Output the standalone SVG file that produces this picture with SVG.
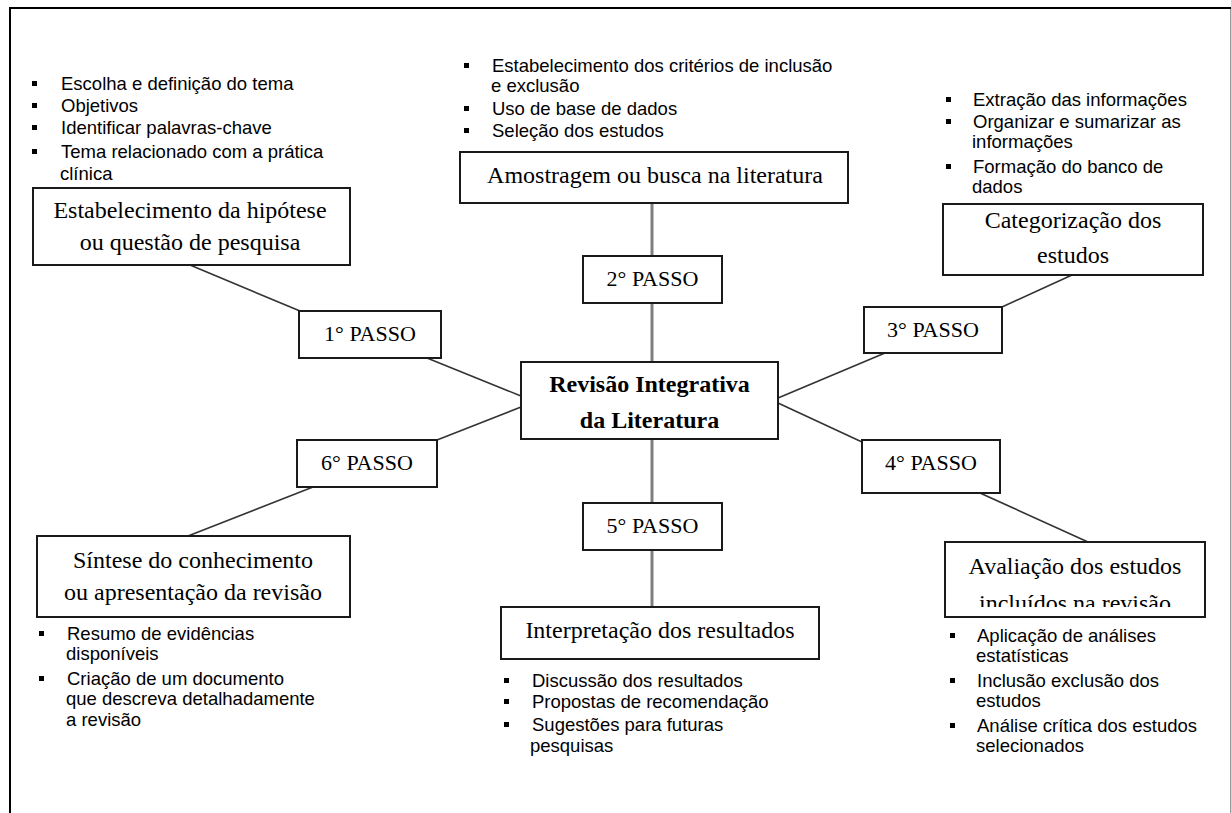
<svg xmlns="http://www.w3.org/2000/svg" width="1231" height="813" viewBox="0 0 1231 813">
<style>
.box{fill:#fff;stroke:#1a1a1a;stroke-width:2}
.lbl{font-family:"Liberation Serif","Times New Roman",serif;font-size:24px;text-anchor:middle;fill:#000}
.step{font-size:22px}
.title{font-weight:bold}
.bul{font-family:"Liberation Sans",Arial,sans-serif;font-size:18.5px;fill:#000}
.conn{stroke:#333;stroke-width:1.6;fill:none}
.vconn{stroke:#7f7f7f;stroke-width:3;fill:none}
</style>
<defs>
<rect id="b" width="5" height="5" fill="#000"/>
<clipPath id="clipAval"><rect x="940" y="540" width="270" height="67"/></clipPath>
</defs>
<rect width="1231" height="813" fill="#fff"/>
<g id="frame">
<line x1="9" y1="8" x2="1231" y2="8" stroke="#000" stroke-width="2"/>
<line x1="10" y1="7" x2="10" y2="813" stroke="#000" stroke-width="2"/>
<line x1="1230.5" y1="9" x2="1230.5" y2="813" stroke="#999" stroke-width="1"/>
</g>
<g id="connectors">
<line class="conn" x1="190" y1="265" x2="300" y2="311"/>
<line class="conn" x1="427" y1="358" x2="521" y2="396"/>
<line class="conn" x1="521" y1="407" x2="437" y2="440"/>
<line class="conn" x1="313" y1="487" x2="188" y2="536"/>
<line class="conn" x1="778" y1="398" x2="885" y2="353"/>
<line class="conn" x1="1002" y1="307" x2="1072" y2="275"/>
<line class="conn" x1="778" y1="403" x2="862" y2="442"/>
<line class="conn" x1="980" y1="493" x2="1088" y2="542"/>
<line class="vconn" x1="652" y1="203" x2="652" y2="256"/>
<line class="vconn" x1="652" y1="303" x2="652" y2="362"/>
<line class="vconn" x1="652" y1="439" x2="652" y2="503"/>
<line class="vconn" x1="652" y1="550" x2="652" y2="612"/>
</g>
<g id="node-center">
<rect class="box" x="521" y="362" width="257" height="77"/>
<text class="lbl title" x="649.5" y="392">Revisão Integrativa</text>
<text class="lbl title" x="649.5" y="428">da Literatura</text>
</g>
<g id="node-step1">
<rect class="box" x="299" y="311" width="142" height="47"/>
<text class="lbl step" x="370" y="341">1° PASSO</text>
</g>
<g id="node-step2">
<rect class="box" x="583" y="256" width="139" height="47"/>
<text class="lbl step" x="652.5" y="286">2° PASSO</text>
</g>
<g id="node-step3">
<rect class="box" x="864" y="307" width="138" height="46"/>
<text class="lbl step" x="933" y="337">3° PASSO</text>
</g>
<g id="node-step4">
<rect class="box" x="862" y="440" width="138" height="53"/>
<text class="lbl step" x="931" y="470">4° PASSO</text>
</g>
<g id="node-step5">
<rect class="box" x="583" y="503" width="139" height="47"/>
<text class="lbl step" x="652.5" y="533">5° PASSO</text>
</g>
<g id="node-step6">
<rect class="box" x="297" y="440" width="140" height="47"/>
<text class="lbl step" x="367" y="470">6° PASSO</text>
</g>
<g id="node-hipotese">
<rect class="box" x="33" y="188" width="317" height="77"/>
<text class="lbl" x="190" y="218">Estabelecimento da hipótese</text>
<text class="lbl" x="190" y="250">ou questão de pesquisa</text>
</g>
<g id="node-amostragem">
<rect class="box" x="460" y="152" width="388" height="51"/>
<text class="lbl" x="655" y="183">Amostragem ou busca na literatura</text>
</g>
<g id="node-categorizacao">
<rect class="box" x="943" y="204" width="260" height="71"/>
<text class="lbl" x="1073" y="228">Categorização dos</text>
<text class="lbl" x="1073" y="263">estudos</text>
</g>
<g id="node-avaliacao">
<rect class="box" x="945" y="542" width="260" height="75"/>
<text class="lbl" x="1075" y="574">Avaliação dos estudos</text>
<text class="lbl" x="1075" y="611" clip-path="url(#clipAval)">incluídos na revisão</text>
</g>
<g id="node-interpretacao">
<rect class="box" x="501" y="607" width="318" height="52"/>
<text class="lbl" x="660" y="638">Interpretação dos resultados</text>
</g>
<g id="node-sintese">
<rect class="box" x="37" y="536" width="313" height="81"/>
<text class="lbl" x="193" y="568">Síntese do conhecimento</text>
<text class="lbl" x="193" y="600">ou apresentação da revisão</text>
</g>
<g id="notes-step1" class="bul">
<use href="#b" x="32" y="81"/><text x="61" y="90">Escolha e definição do tema</text>
<use href="#b" x="32" y="103"/><text x="61" y="112">Objetivos</text>
<use href="#b" x="32" y="125"/><text x="61" y="134">Identificar palavras-chave</text>
<use href="#b" x="32" y="149"/><text x="61" y="158">Tema relacionado com a prática</text>
<text x="60" y="180">clínica</text>
</g>
<g id="notes-step2" class="bul">
<use href="#b" x="464" y="63"/><text x="492" y="72">Estabelecimento dos critérios de inclusão</text>
<text x="491" y="92">e exclusão</text>
<use href="#b" x="464" y="106"/><text x="492" y="115">Uso de base de dados</text>
<use href="#b" x="464" y="128"/><text x="492" y="137">Seleção dos estudos</text>
</g>
<g id="notes-step3" class="bul">
<use href="#b" x="946" y="97"/><text x="973" y="106">Extração das informações</text>
<use href="#b" x="946" y="119"/><text x="973" y="128">Organizar e sumarizar as</text>
<text x="972" y="148">informações</text>
<use href="#b" x="946" y="164"/><text x="973" y="173">Formação do banco de</text>
<text x="972" y="193">dados</text>
</g>
<g id="notes-step4" class="bul">
<use href="#b" x="950" y="633"/><text x="977" y="642">Aplicação de análises</text>
<text x="976" y="662">estatísticas</text>
<use href="#b" x="950" y="678"/><text x="977" y="687">Inclusão exclusão dos</text>
<text x="976" y="707">estudos</text>
<use href="#b" x="950" y="723"/><text x="977" y="732">Análise crítica dos estudos</text>
<text x="976" y="752">selecionados</text>
</g>
<g id="notes-step5" class="bul">
<use href="#b" x="504" y="678"/><text x="532" y="687">Discussão dos resultados</text>
<use href="#b" x="504" y="699"/><text x="532" y="708">Propostas de recomendação</text>
<use href="#b" x="504" y="722"/><text x="532" y="731">Sugestões para futuras</text>
<text x="530" y="752">pesquisas</text>
</g>
<g id="notes-step6" class="bul">
<use href="#b" x="39" y="631"/><text x="67" y="640">Resumo de evidências</text>
<text x="66" y="660">disponíveis</text>
<use href="#b" x="39" y="676"/><text x="67" y="685">Criação de um documento</text>
<text x="66" y="705">que descreva detalhadamente</text>
<text x="66" y="726">a revisão</text>
</g>
</svg>
